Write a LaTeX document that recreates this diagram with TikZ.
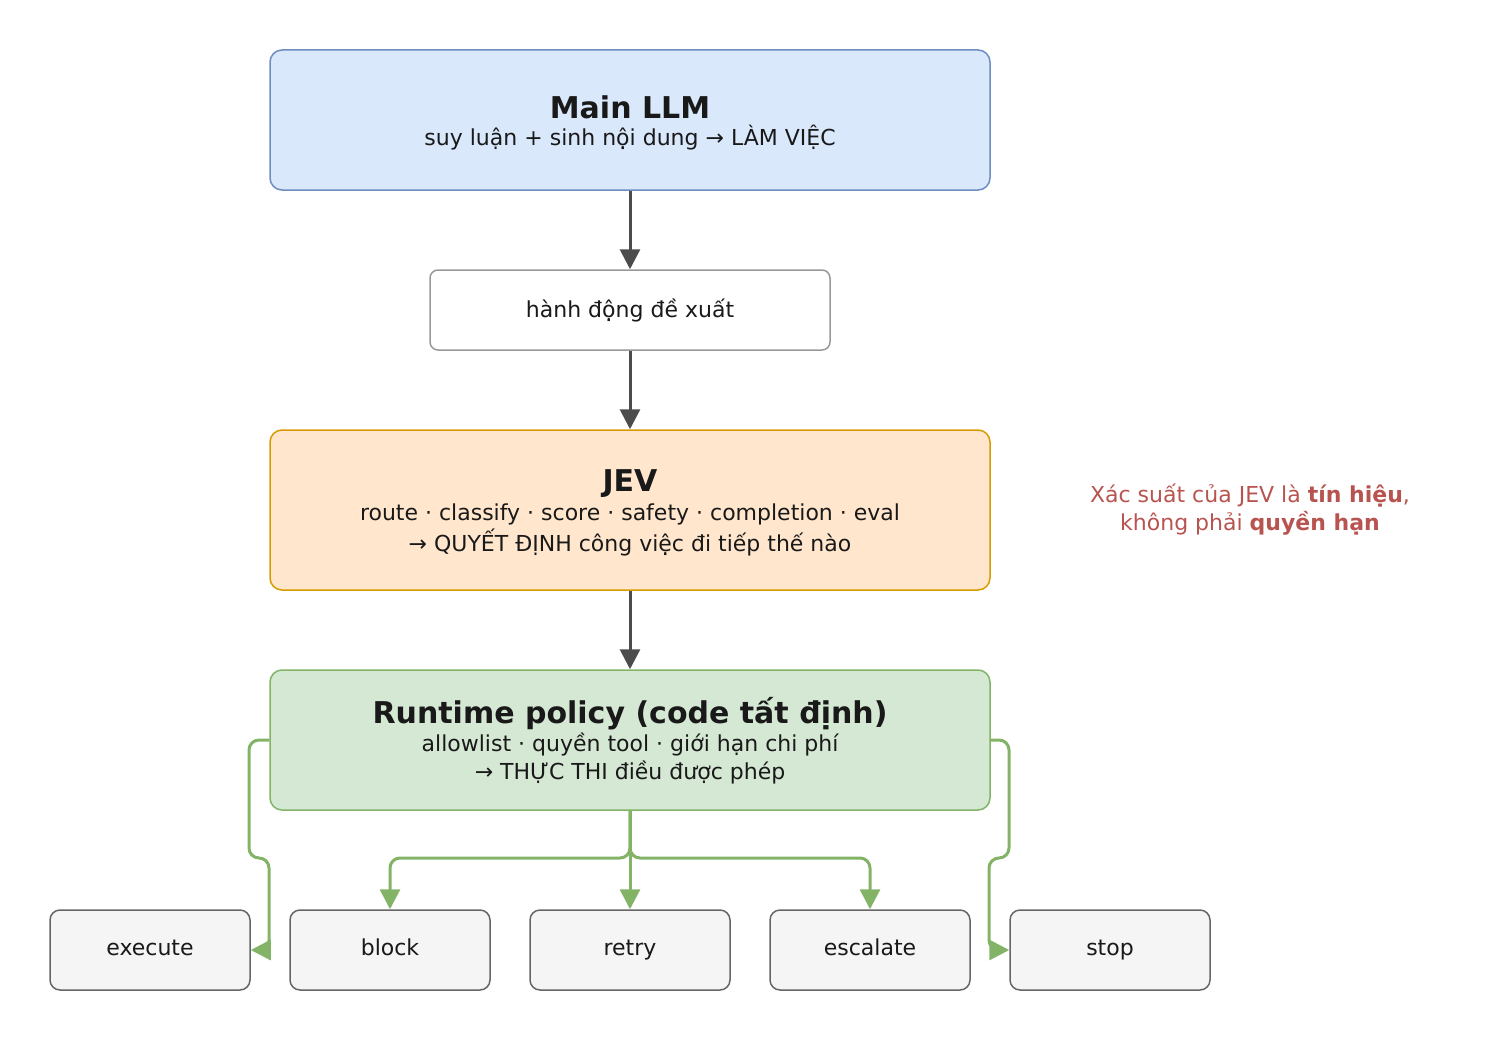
\documentclass[tikz,border=0pt]{standalone}
\usepackage{fontspec}
\setmainfont{DejaVu Sans}
\usetikzlibrary{arrows.meta}
\begin{document}
\begin{tikzpicture}[x=1pt,y=-1pt,
 box/.style={draw, rounded corners=12pt, line width=1.5pt, minimum width=#1, align=center, inner sep=0pt},
 leaf/.style={draw=black!60, fill=black!4, rounded corners=10pt, line width=1.5pt, minimum width=200pt, minimum height=80pt, text height=15pt, text depth=4pt, font=\fontsize{22}{26}\selectfont, text=black!90},
 body/.style={font=\fontsize{22}{28}\selectfont, text=black!90},
 ttl/.style={font=\fontsize{30}{34}\selectfont\bfseries, text=black!90},
 dark/.style={draw=black!70, line width=3pt, -{Triangle[length=20pt,width=20pt]}},
]
\definecolor{gline}{HTML}{82B366}
\definecolor{gfill}{HTML}{D5E8D4}
\definecolor{bline}{HTML}{6C8EBF}
\definecolor{bfill}{HTML}{DAE8FC}
\definecolor{oline}{HTML}{D79B00}
\definecolor{ofill}{HTML}{FFE6CC}
\definecolor{rtxt}{HTML}{B85450}
\useasboundingbox (0,0) rectangle (1498,1038);
\node[box=720pt, draw=bline, fill=bfill, minimum height=140pt] (llm) at (630,120) {};
\node[ttl] at (630,107) {Main LLM};
\node[body] at (630,138) {suy luận + sinh nội dung → LÀM VIỆC};
\node[box=400pt, draw=black!40, fill=white, minimum height=80pt, body, rounded corners=8pt] (act) at (630,310) {hành động đề xuất};
\node[box=720pt, draw=oline, fill=ofill, minimum height=160pt] (jev) at (630,510) {};
\node[ttl] at (630,484) {JEV};
\node[body] at (630,514) {route · classify · score · safety · completion · eval};
\node[body] at (630,542) {→ QUYẾT ĐỊNH công việc đi tiếp thế nào};
\node[box=720pt, draw=gline, fill=gfill, minimum height=140pt] (rt) at (630,740) {};
\node[ttl] at (630,714) {Runtime policy (code tất định)};
\node[body] at (630,744) {allowlist · quyền tool · giới hạn chi phí};
\node[body] at (630,772) {→ THỰC THI điều được phép};
\node[body, text=rtxt, align=center] (note) at (1250,510) {Xác suất của JEV là \textbf{tín hiệu},\\không phải \textbf{quyền hạn}};
\node[leaf] (ex) at (150,950) {execute};
\node[leaf] (bl) at (390,950) {block};
\node[leaf] (re) at (630,950) {retry};
\node[leaf] (es) at (870,950) {escalate};
\node[leaf] (st) at (1110,950) {stop};
\draw[dark] (llm.south) -- (act.north);
\draw[dark] (act.south) -- (jev.north);
\draw[dark] (jev.south) -- (rt.north);
\tikzset{grn/.style={draw=gline, line width=3pt, rounded corners=10pt, -{Triangle[length=20pt,width=20pt]}}}
\draw[grn] (rt.south) -- (630,858) -- (390,858) -- (bl.north);
\draw[grn] (rt.south) -- (re.north);
\draw[grn] (rt.south) -- (630,858) -- (870,858) -- (es.north);
\draw[grn] (rt.west) -- (249,740) -- (249,858) -- (269,858) -- (269,950) -- (ex.east);
\draw[grn] (rt.east) -- (1009,740) -- (1009,858) -- (989,858) -- (989,950) -- (st.west);
\end{tikzpicture}
\end{document}
